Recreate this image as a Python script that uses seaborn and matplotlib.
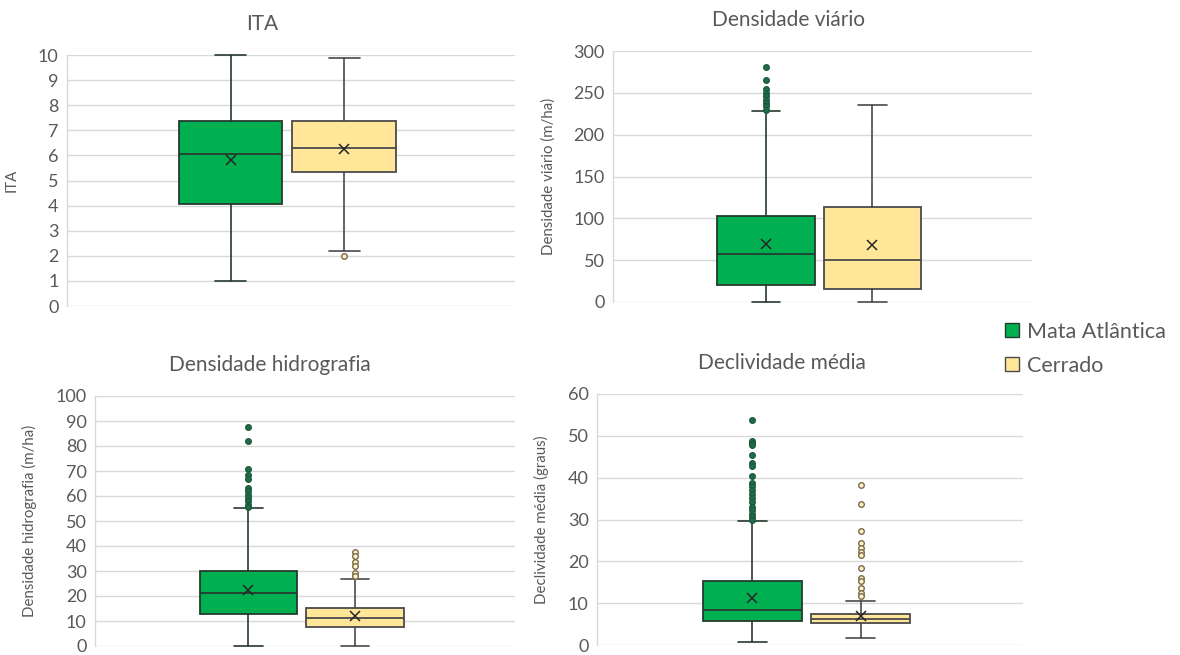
import numpy as np
import matplotlib
matplotlib.use('Agg')
import matplotlib.pyplot as plt
import seaborn as sns
from matplotlib.lines import Line2D

# Box statistics, one [Mata Atlântica, Cerrado] pair per panel
panel_titles = ['ITA', 'Densidade viário', 'Densidade hidrografia', 'Declividade média']
y_labels = ['ITA', 'Densidade viário (m/ha)', 'Densidade hidrografia (m/ha)', 'Declividade média (graus)']
series = ['Mata Atlântica', 'Cerrado']

q1 = [[4.08, 5.33], [20.7, 15.1], [12.9, 7.7], [5.8, 5.2]]
median = [[6.07, 6.29], [57.8, 50.2], [21.2, 11.2], [8.3, 6.2]]
q3 = [[7.38, 7.38], [102.8, 113.5], [30.0, 15.1], [15.3, 7.4]]
mean = [[5.80, 6.25], [69.3, 68.1], [22.5, 11.9], [11.3, 6.9]]
whisk_lo = [[1.0, 2.18], [0.0, 0.0], [0.0, 0.0], [0.64, 1.76]]
whisk_hi = [[10.0, 9.88], [227.9, 235.9], [55.3, 26.7], [29.6, 10.4]]
outliers = [
    [[], [1.99]],
    [[281, 265, 254, 250, 246, 242, 238, 234, 230], []],
    [[87.6, 81.9, 70.9, 68.3, 66.9, 63.2, 61.9, 60.5, 59.2, 57.9, 56.5, 55.5],
     [37.5, 35.9, 33.5, 31.9, 29.2, 27.9]],
    [[53.7, 48.8, 48.3, 47.7, 45.5, 43.5, 42.7, 40.3, 38.7, 37.9, 37.0, 36.2,
      35.1, 34.1, 33.1, 32.2, 31.4, 30.6, 29.9],
     [38.3, 33.8, 27.2, 24.3, 23.1, 22.2, 21.4, 18.4, 16.1, 15.2, 13.6, 12.5, 11.6]],
]
y_max = [10, 300, 100, 60]
y_step = [1, 50, 10, 10]

fills = ['#00B050', '#FFE699']
edges = ['#263a2e', '#4a4a4a']
flier_face = ['#1e6f48', '#fff2cc']
flier_edge = ['#1c5a3c', '#7a6a45']
text_col = '#595959'
grid_col = '#d9d9d9'

sns.set_theme(style='whitegrid')
plt.rcParams['font.family'] = ['Lato', 'DejaVu Sans']

W, H = 1180, 655
fig = plt.figure(figsize=(W / 100, H / 100), dpi=100)

# plot area of each panel in pixels (left, top, right, bottom)
rects = [(67, 55, 515, 306), (613, 51, 1032, 302), (95, 396, 515, 646), (597, 394, 1023, 645)]
title_x = [0.435, 0.418, 0.417, 0.434]
label_x = [-0.107, -0.136, -0.138, -0.113]

for i, (x0, y0, x1, y1) in enumerate(rects):
    ax = fig.add_axes([x0 / W, 1 - y1 / H, (x1 - x0) / W, (y1 - y0) / H])
    stats = []
    for j in range(2):
        stats.append(dict(q1=q1[i][j], med=median[i][j], q3=q3[i][j], mean=mean[i][j],
                          whislo=whisk_lo[i][j], whishi=whisk_hi[i][j],
                          fliers=np.array(outliers[i][j]), label=series[j]))
    bp = ax.bxp(stats, positions=[0.365, 0.619], widths=0.232, capwidths=0.068,
                showmeans=True, patch_artist=True, manage_ticks=False,
                meanprops=dict(marker='x', markeredgecolor='#262626', markersize=7, markeredgewidth=1.1))
    for j in range(2):
        bp['boxes'][j].set(facecolor=fills[j], edgecolor=edges[j], linewidth=1.3)
        bp['medians'][j].set(color=edges[j], linewidth=1.3)
        for k in (2 * j, 2 * j + 1):
            bp['whiskers'][k].set(color=edges[j], linewidth=1.2)
            bp['caps'][k].set(color=edges[j], linewidth=1.2)
        bp['fliers'][j].set(marker='o', markersize=4, markerfacecolor=flier_face[j],
                            markeredgecolor=flier_edge[j], markeredgewidth=1)
    for key in bp:
        for art in bp[key]:
            art.set_clip_on(False)

    ax.set_xlim(0, 1)
    ax.set_ylim(0, y_max[i])
    ax.set_yticks(np.arange(0, y_max[i] + y_step[i], y_step[i]))
    ax.set_xticks([])
    ax.set_axisbelow(True)
    ax.grid(axis='y', color=grid_col, linewidth=1)
    ax.grid(axis='x', visible=False)
    for s in ['top', 'right', 'bottom']:
        ax.spines[s].set_visible(False)
    ax.spines['left'].set_color(grid_col)
    ax.spines['left'].set_linewidth(1)
    ax.tick_params(axis='y', length=0, pad=6, labelsize=13, labelcolor=text_col)
    ax.set_ylabel(y_labels[i], fontsize=10.8, color=text_col)
    ax.yaxis.set_label_coords(label_x[i], 0.5)
    ax.annotate(panel_titles[i], xy=(title_x[i], 1), xycoords='axes fraction',
                xytext=(0, 22), textcoords='offset points', ha='center', va='center',
                fontsize=15, color=text_col)

handles = [Line2D([], [], marker='s', linestyle='none', markersize=10,
                  markerfacecolor=fills[j], markeredgecolor=edges[j], markeredgewidth=1)
           for j in range(2)]
fig.legend(handles, series, loc='upper left', bbox_to_anchor=(994 / W, 1 - 313 / H),
           frameon=False, fontsize=15.5, labelcolor=text_col, handletextpad=0.25,
           labelspacing=0.65, borderaxespad=0, handlelength=0.9)

fig.savefig('out.png', dpi=100)
